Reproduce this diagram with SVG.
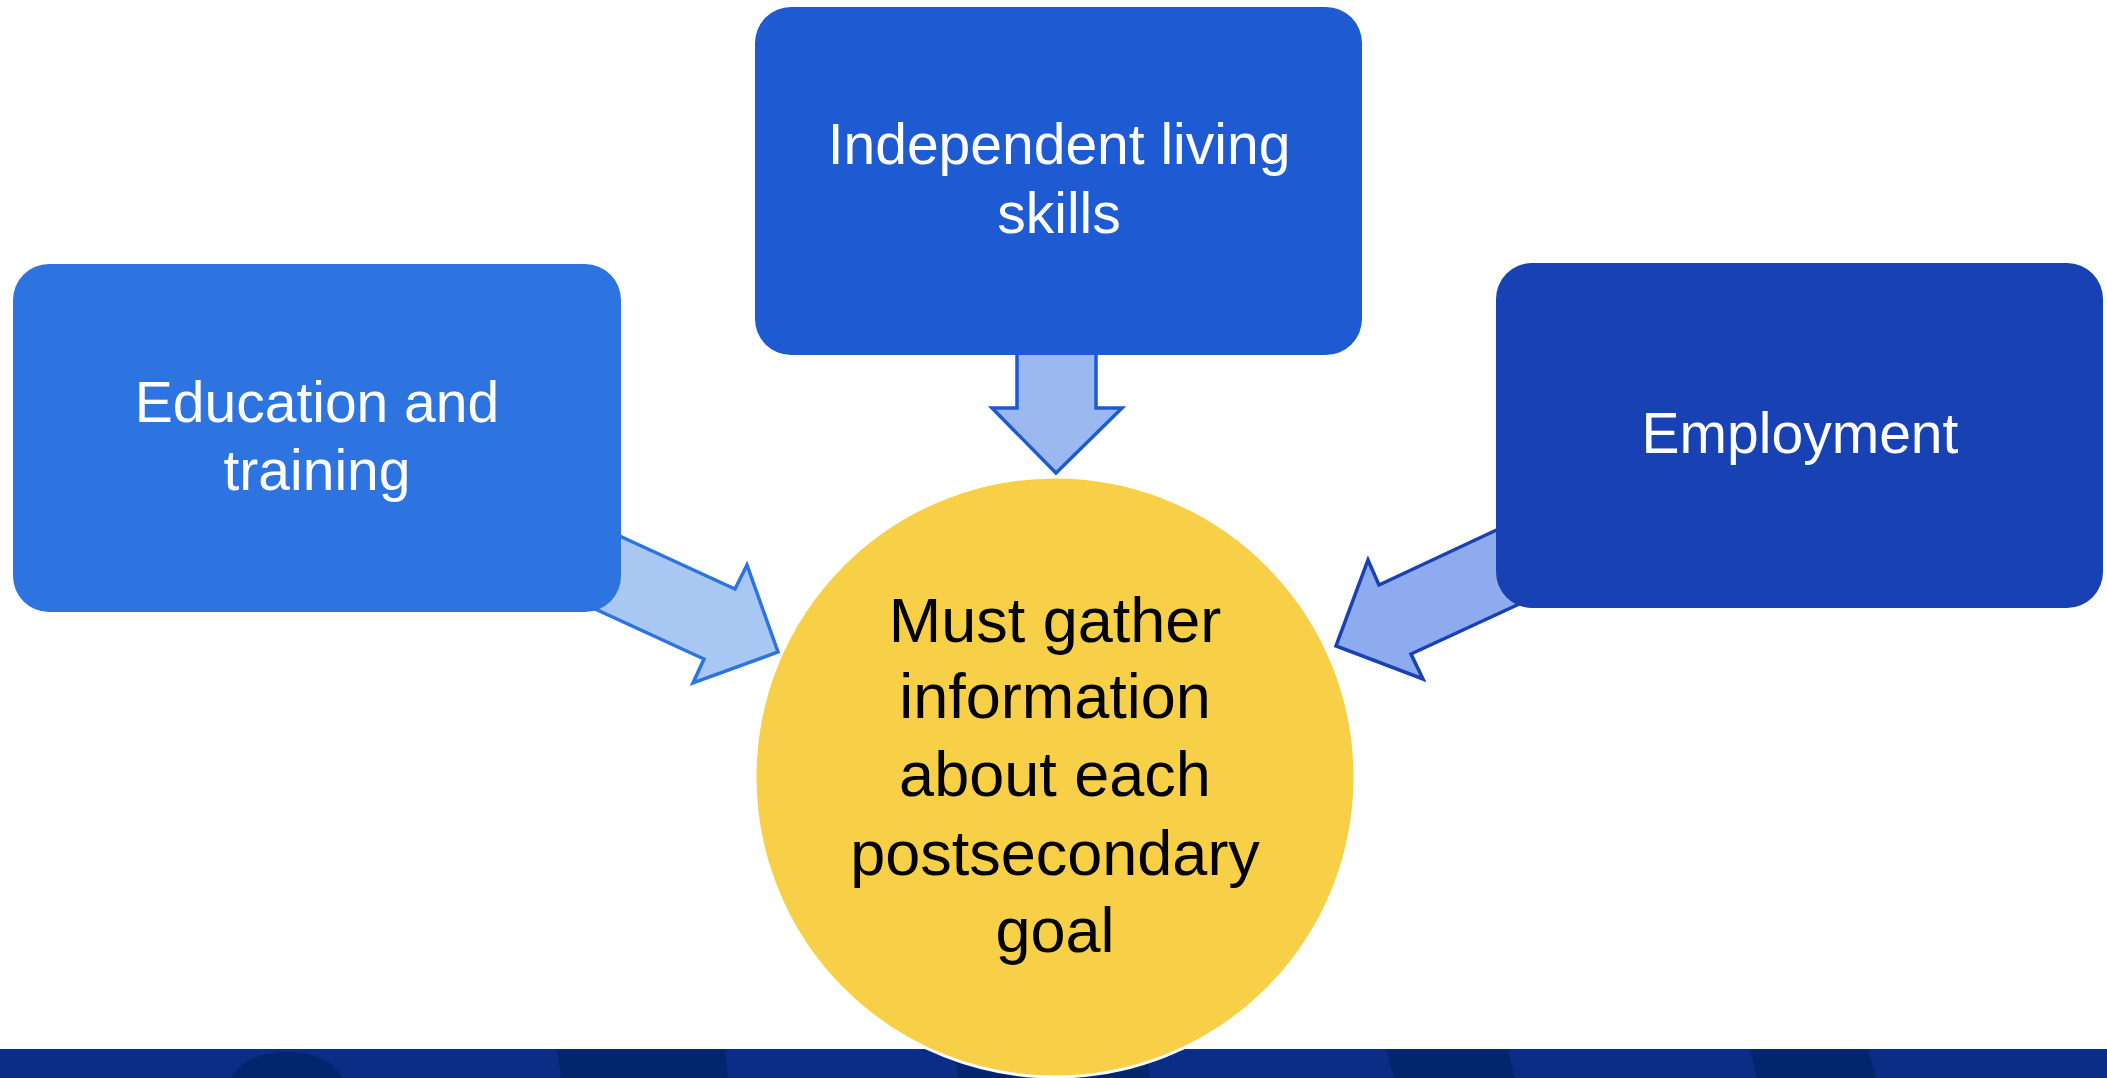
<svg xmlns="http://www.w3.org/2000/svg" width="2107" height="1078" viewBox="0 0 2107 1078">
<style>
.lbl{font-family:"Liberation Sans",Arial,sans-serif;font-size:57px;fill:#ffffff;text-anchor:middle}
.ctr{font-family:"Liberation Sans",Arial,sans-serif;font-size:63px;fill:#000000;text-anchor:middle}
.arrow{stroke-width:3.5;stroke-linejoin:miter}
</style>
<rect x="0" y="0" width="2107" height="1078" fill="#ffffff"/>
<g id="band">
<rect x="0" y="1049" width="2107" height="29" fill="#0A2E86"/>
<path d="M231,1078 C248,1043 326,1043 342,1078 Z" fill="#00266E"/>
<polygon points="557,1049 725,1049 728,1078 561,1078" fill="#00266E"/>
<polygon points="955,1049 1146,1049 1150,1078 958,1078" fill="#00266E"/>
<polygon points="1386,1049 1508,1049 1515,1078 1394,1078" fill="#00266E"/>
<polygon points="1750,1049 1868,1049 1876,1078 1757,1078" fill="#00266E"/>
</g>
<g id="connectors">
<polygon class="arrow" points="600,527 735,589 747,565 778,652 693,683 704,659 580,602" fill="#A9C7F3" stroke="#2E74E1"/>
<polygon class="arrow" points="1017,340 1017,408 992,408 1056,473 1122,408 1096,408 1096,340" fill="#9CB8F1" stroke="#1E5AD2"/>
<polygon class="arrow" points="1520,519 1379,585 1368,560 1336,646 1423,679 1411,654 1530,599" fill="#8EABF0" stroke="#1841B3"/>
</g>
<g id="node-education">
<rect x="13" y="264" width="608" height="348" rx="36" ry="36" fill="#2E74E1"/>
<text class="lbl" x="317" y="422">Education and</text>
<text class="lbl" x="317" y="490">training</text>
</g>
<g id="node-independent">
<rect x="755" y="7" width="607" height="348" rx="36" ry="36" fill="#1E5AD2"/>
<text class="lbl" x="1059" y="164">Independent living</text>
<text class="lbl" x="1059" y="233">skills</text>
</g>
<g id="node-employment">
<rect x="1496" y="263" width="607" height="345" rx="36" ry="36" fill="#1841B3"/>
<text class="lbl" x="1800" y="453">Employment</text>
</g>
<g id="node-goal">
<circle cx="1055" cy="777" r="300" fill="#F8D047" stroke="#ffffff" stroke-width="3"/>
<text class="ctr" x="1055" y="642">Must gather</text>
<text class="ctr" x="1055" y="718">information</text>
<text class="ctr" x="1055" y="796">about each</text>
<text class="ctr" x="1055" y="875">postsecondary</text>
<text class="ctr" x="1055" y="952">goal</text>
</g>
</svg>
